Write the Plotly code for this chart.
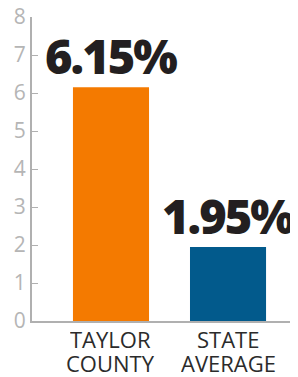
import plotly.graph_objects as go

categories = ["TAYLOR<br>COUNTY", "STATE<br>AVERAGE"]
values = [6.15, 1.95]
value_labels = ["6.15%", "1.95%"]
bar_colors = ["#f47a00", "#025a8c"]
y_ticks = [0, 1, 2, 3, 4, 5, 6, 7, 8]

fig = go.Figure(go.Bar(
    x=categories, y=values, marker=dict(color=bar_colors, line=dict(width=0)),
    width=0.65, hoverinfo="skip",
))

for c, v, t in zip(categories, values, value_labels):
    fig.add_annotation(
        x=c, y=v, text='<span style="letter-spacing:-2px">' + t + '</span>',
        showarrow=False, yanchor="bottom", xanchor="center",
        yshift=-3,
        font=dict(family="Open Sans", size=47, color="#231f20", weight=800),
    )

# category labels drawn line by line for tight line spacing
for c in categories:
    for i, line in enumerate(c.split("<br>")):
        fig.add_annotation(
            x=c, y=0, yref="y", text=line, showarrow=False,
            xanchor="center", yanchor="top", yshift=-6 - 24 * i,
            height=22, borderpad=0, valign="middle",
            font=dict(family="Open Sans", size=22, color="#2b2b2b"),
        )

# page body has an 8px margin; figure is sized to compensate
fig.update_layout(
    width=290, height=369,
    margin=dict(l=24, r=0, t=9, b=56, autoexpand=False),
    plot_bgcolor="white", paper_bgcolor="white",
    showlegend=False,
    font=dict(family="Open Sans"),
    xaxis=dict(
        type="category", range=[-0.675, 1.598], showline=True, linecolor="#b0b0b0",
        linewidth=2, ticks="", showgrid=False, zeroline=False, showticklabels=False,
        automargin=False,
    ),
    yaxis=dict(
        range=[0, 8], tickvals=y_ticks, ticks="inside", ticklen=6, tickcolor="#b0b0b0",
        tickwidth=1, showline=True, linecolor="#b0b0b0", linewidth=2, showgrid=False,
        zeroline=False, automargin=False, ticklabeloverflow="allow",
        tickfont=dict(family="Open Sans", size=21, color="#b5b5b5"),
    ),
)

fig.write_html("out.html")
